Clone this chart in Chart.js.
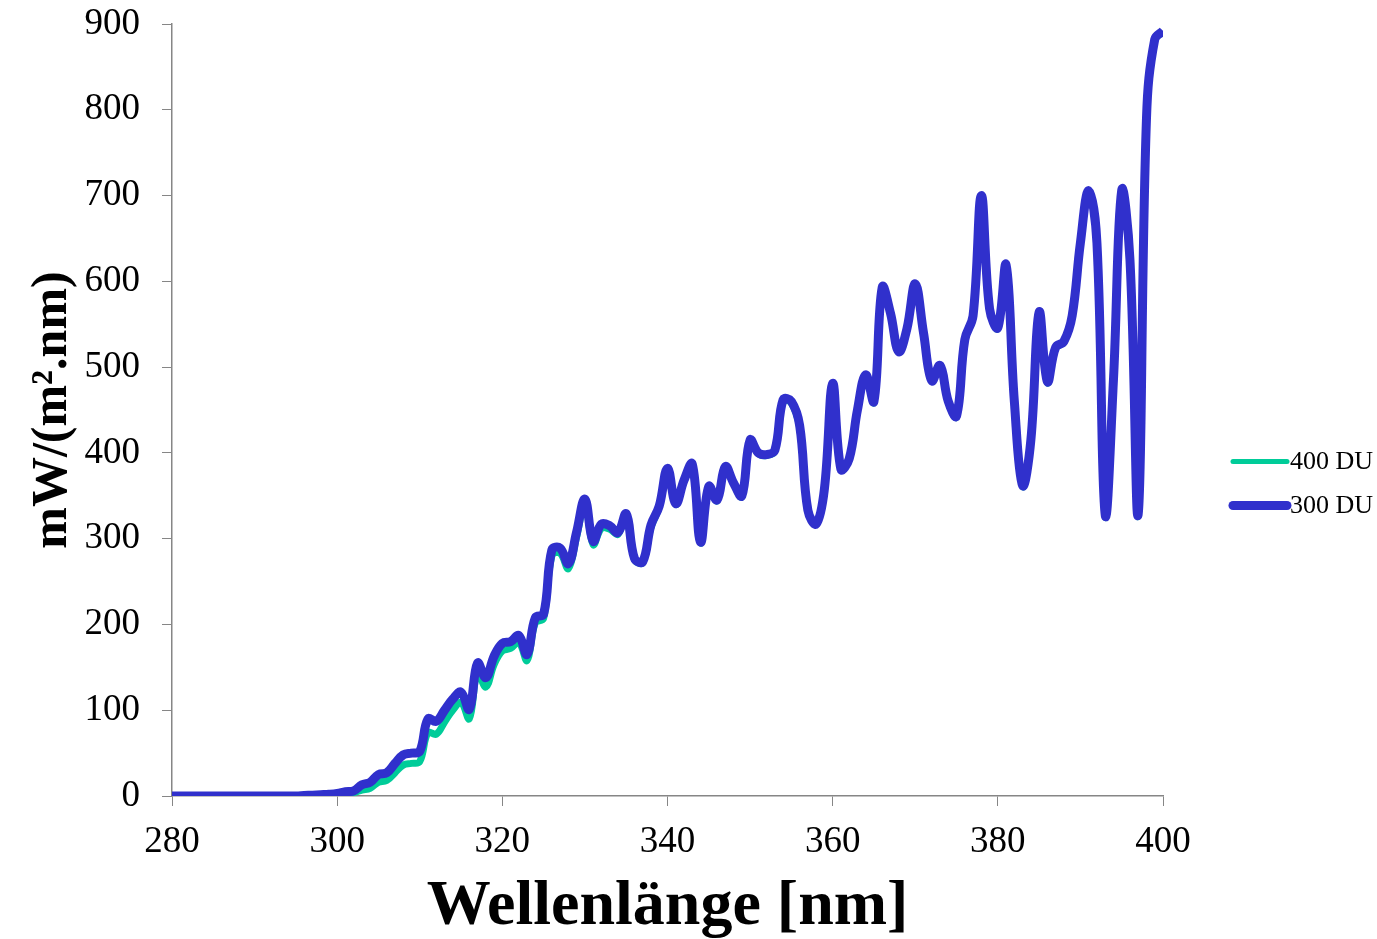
<!DOCTYPE html>
<html>
<head>
<meta charset="utf-8">
<script src="https://cdn.jsdelivr.net/npm/chart.js@4.4.1/dist/chart.umd.min.js"></script>
<style>
  html, body { margin: 0; padding: 0; background: #fff; }
  #wrap { width: 1377px; height: 939px; }
</style>
</head>
<body>
<div id="wrap"><canvas id="uvChart" width="1377" height="939"></canvas></div>
<script>
// wavelength grid, 1 nm steps
const wavelengths = Array.from({ length: 121 }, (_, i) => 280 + i);

// irradiance for 400 DU ozone column
const du400 = [
  0, 0, 0, 0, 0, 0, 0, 0, 0, 0,
  0, 0, 0, 0, 0, 0, 0.3, 0.7, 1, 1.5,
  2, 3, 4, 7, 9, 16, 18, 27, 36, 38,
  40, 74, 72, 86, 100, 109, 90, 144, 127, 153,
  169, 172, 179, 158, 202, 207, 280, 283, 265, 302,
  340, 293, 312, 311, 305, 326, 276, 272, 313, 337,
  381, 340, 367, 385, 295, 359, 344, 383, 364, 349,
  413, 399, 397, 402, 460, 458, 429, 332, 317, 357,
  479, 381, 392, 449, 489, 459, 592, 562, 519, 544,
  596, 539, 484, 501, 459, 442, 531, 559, 699, 567,
  545, 618, 459, 361, 414, 563, 482, 522, 529, 559,
  644, 705, 644, 327, 484, 705, 624, 328, 789, 881,
  891
];

// irradiance for 300 DU ozone column
const du300 = [
  0, 0, 0, 0, 0, 0, 0, 0, 0, 0,
  0, 0, 0, 0, 0, 0, 0.5, 1, 1.5, 2,
  3, 5, 6, 13, 16, 25, 27, 38, 48, 50,
  52, 90, 87, 100, 113, 121, 101, 155, 138, 163,
  178, 180, 187, 165, 208, 212, 287, 289, 271, 308,
  346, 297, 317, 315, 307, 329, 277, 273, 316, 338,
  382, 341, 368, 387, 296, 361, 345, 384, 365, 350,
  415, 400, 398, 403, 462, 460, 432, 333, 317, 358,
  481, 381, 393, 450, 491, 460, 593, 563, 518, 545,
  597, 540, 484, 502, 460, 443, 532, 560, 700, 568,
  546, 619, 460, 362, 415, 564, 483, 523, 530, 560,
  645, 706, 645, 328, 485, 706, 625, 329, 790, 882,
  892
];

const seriesNames = ["400 DU", "300 DU"];
const xTicks = [280, 300, 320, 340, 360, 380, 400];

const toPoints = (ys) => ys.map((y, i) => ({ x: wavelengths[i], y }));

const serif = "'Liberation Serif', 'Times New Roman', serif";
const axisGray = "#868686";

// legend drawn by hand to the right of the plot
const sideLegend = {
  id: "sideLegend",
  afterDraw(chart) {
    const { ctx, chartArea } = chart;
    const x0 = chartArea.right + 70;
    const yMid = chart.height / 2 + 14;
    chart.data.datasets.forEach((ds, i) => {
      const y = yMid - 22 + i * 44;
      ctx.save();
      ctx.strokeStyle = ds.borderColor;
      ctx.lineWidth = ds.legendWidth;
      ctx.lineCap = "round";
      ctx.beginPath();
      ctx.moveTo(x0, y);
      ctx.lineTo(x0 + 54, y);
      ctx.stroke();
      ctx.fillStyle = "#000";
      ctx.font = "26px " + serif;
      ctx.textBaseline = "middle";
      ctx.textAlign = "left";
      ctx.fillText(ds.label, x0 + 57, y + 1);
      ctx.restore();
    });
  }
};

const ctx = document.getElementById("uvChart").getContext("2d");

new Chart(ctx, {
  type: "line",
  data: {
    datasets: [
      {
        label: seriesNames[0],
        data: toPoints(du400),
        borderColor: "#00CC99",
        borderWidth: 7,
        legendWidth: 5,
        pointRadius: 0,
        tension: 0.4,
        order: 1
      },
      {
        label: seriesNames[1],
        data: toPoints(du300),
        borderColor: "#3030CC",
        borderWidth: 9,
        legendWidth: 9,
        pointRadius: 0,
        tension: 0.4,
        order: 0
      }
    ]
  },
  options: {
    responsive: false,
    animation: false,
    layout: { padding: { top: 24, right: 214, left: 0, bottom: 0 } },
    plugins: {
      legend: { display: false },
      tooltip: { enabled: false }
    },
    scales: {
      x: {
        type: "linear",
        min: 280,
        max: 400,
        afterBuildTicks: (scale) => {
          scale.ticks = xTicks.map((v) => ({ value: v }));
        },
        afterFit: (scale) => {
          scale.height = 143;
          scale.paddingLeft = 0;
          scale.paddingRight = 0;
        },
        grid: { drawOnChartArea: false, drawTicks: true, tickLength: 10, color: axisGray },
        border: { color: axisGray, width: 1.5 },
        ticks: { color: "#000", padding: 14, maxRotation: 0, font: { family: serif, size: 37 } },
        title: {
          display: true,
          text: "Wellenlänge [nm]",
          color: "#000",
          padding: { top: 0, bottom: -7 },
          font: { family: serif, size: 64, weight: "bold" }
        }
      },
      y: {
        min: 0,
        max: 900,
        ticks: { stepSize: 100, color: "#000", padding: 22, font: { family: serif, size: 37 } },
        afterFit: (scale) => {
          scale.width = 172;
          scale.paddingTop = 0;
          scale.paddingBottom = 0;
        },
        grid: { drawOnChartArea: false, drawTicks: true, tickLength: 10, color: axisGray },
        border: { color: axisGray, width: 1.5 },
        title: {
          display: true,
          text: "mW/(m².nm)",
          color: "#000",
          padding: { top: 23, bottom: 0 },
          font: { family: serif, size: 50, weight: "bold" }
        }
      }
    }
  },
  plugins: [sideLegend]
});
</script>
</body>
</html>
